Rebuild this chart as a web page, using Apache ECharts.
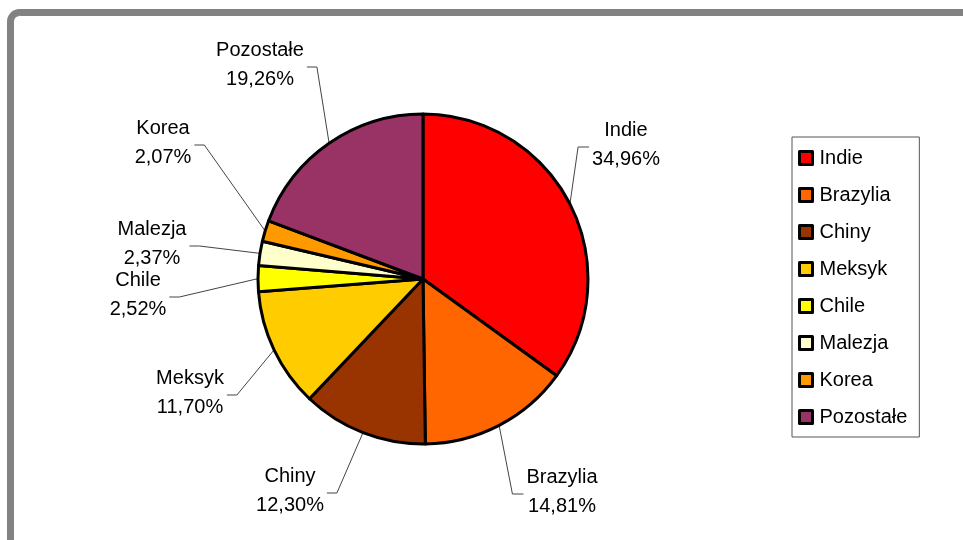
<!DOCTYPE html>
<html>
<head>
<meta charset="utf-8">
<script src="https://cdn.jsdelivr.net/npm/echarts@6/dist/echarts.min.js"></script>
<style>
  html, body { margin: 0; padding: 0; background: #ffffff; }
  #chart { width: 963px; height: 540px; }
</style>
</head>
<body>
<div id="chart"></div>
<script>
// Udział krajów (%)
const countries = ['Indie', 'Brazylia', 'Chiny', 'Meksyk', 'Chile', 'Malezja', 'Korea', 'Pozostałe'];
const shares = [34.96, 14.81, 12.30, 11.70, 2.52, 2.37, 2.07, 19.26];
const sliceColors = ['#FF0000', '#FF6600', '#993300', '#FFCC00', '#FFFF00', '#FFFFCC', '#FF9900', '#993366'];

// Where each two-line label sits (centre of the text block)
const labelSpots = [
  { x: 626, y: 145 },
  { x: 562, y: 492 },
  { x: 290, y: 491 },
  { x: 190, y: 393 },
  { x: 138, y: 295 },
  { x: 152, y: 244 },
  { x: 163, y: 143 },
  { x: 260, y: 65 }
];

const FONT = '"Liberation Sans", Arial, sans-serif';

const chart = echarts.init(document.getElementById('chart'), null, { renderer: 'canvas' });

const fmtPct = v => v.toFixed(2).replace('.', ',') + '%';

chart.setOption({
  animation: false,
  backgroundColor: '#ffffff',
  graphic: [{
    type: 'rect',
    z: -10,
    silent: true,
    shape: { x: 10.5, y: 12.5, width: 1100, height: 700, r: 9 },
    style: { fill: 'none', stroke: '#828282', lineWidth: 7 }
  }],
  legend: {
    orient: 'vertical',
    left: 792,
    top: 137,
    padding: [11, 12, 10, 6],
    itemWidth: 13,
    itemHeight: 13,
    itemGap: 17,
    icon: 'rect',
    borderColor: '#555555',
    borderWidth: 1,
    backgroundColor: '#ffffff',
    itemStyle: { borderColor: '#000000', borderWidth: 3 },
    textStyle: { fontFamily: FONT, fontSize: 20, lineHeight: 20, color: '#000000', padding: [0, 0, 0, 2] },
    data: countries
  },
  series: [{
    type: 'pie',
    center: [423, 279],
    radius: 165,
    startAngle: 90,
    clockwise: true,
    avoidLabelOverlap: false,
    emphasis: { disabled: true },
    itemStyle: { borderColor: '#000000', borderWidth: 3 },
    label: {
      show: true,
      position: 'outside',
      fontFamily: FONT,
      fontSize: 20,
      lineHeight: 29,
      color: '#000000',
      align: 'center',
      formatter: p => p.name + '\n' + fmtPct(p.value)
    },
    labelLine: {
      show: true,
      length: 20,
      length2: 10,
      lineStyle: { color: '#444444', width: 1 }
    },
    labelLayout: function (p) {
      const spot = labelSpots[p.dataIndex];
      const start = p.labelLinePoints ? p.labelLinePoints[0] : [spot.x, spot.y];
      const half = p.labelRect.width / 2;
      const toRight = spot.x > start[0];
      const endX = toRight ? spot.x - half - 3 : spot.x + half + 3;
      const end = [endX, spot.y + 2];
      const elbow = [toRight ? endX - 11 : endX + 10, spot.y + 2];
      return {
        x: spot.x,
        y: spot.y,
        align: 'center',
        verticalAlign: 'middle',
        labelLinePoints: [start, elbow, end]
      };
    },
    data: countries.map((name, i) => ({
      name: name,
      value: shares[i],
      itemStyle: { color: sliceColors[i] }
    }))
  }]
});
</script>
</body>
</html>
